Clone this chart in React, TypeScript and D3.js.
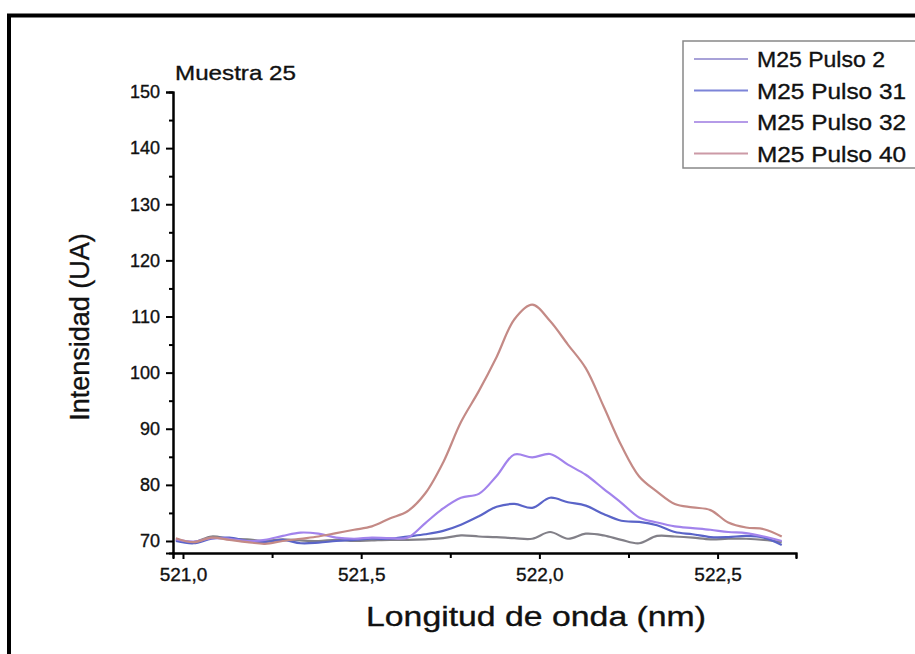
import React, { useEffect, useRef } from "react";
import * as d3 from "d3";

const width = 915;
const height = 654;
const margin = { top: 92, right: 119, bottom: 101, left: 173 };

// wavelength grid (nm)
const wavelength = [
  520.98, 521.03, 521.08, 521.13, 521.18, 521.23, 521.28, 521.33, 521.38, 521.43,
  521.48, 521.53, 521.58, 521.63, 521.68, 521.73, 521.78, 521.83, 521.88, 521.93,
  521.98, 522.03, 522.08, 522.13, 522.18, 522.23, 522.28, 522.33, 522.38, 522.43,
  522.48, 522.53, 522.58, 522.63, 522.68,
];

const pulso2 = [
  70.2, 69.8, 70.8, 70.4, 70.3, 70.0, 70.3, 70.1, 70.0, 70.2,
  70.0, 70.1, 70.2, 70.2, 70.3, 70.5, 71.0, 70.8, 70.7, 70.5,
  70.4, 71.6, 70.4, 71.3, 71.0, 70.2, 69.6, 70.9, 70.8, 70.6,
  70.3, 70.4, 70.4, 70.2, 69.8,
];

const pulso31 = [
  70.0, 69.6, 70.4, 70.6, 70.0, 69.8, 70.2, 69.6, 69.7, 70.0,
  70.2, 70.4, 70.4, 70.8, 71.2, 71.8, 72.9, 74.4, 76.1, 76.6,
  75.9, 77.7, 76.9, 76.3, 74.8, 73.6, 73.4, 72.8, 71.6, 71.2,
  70.7, 70.7, 70.9, 70.6, 69.3,
];

const pulso32 = [
  70.3, 69.9, 70.5, 70.4, 70.0, 70.2, 70.9, 71.5, 71.3, 70.6,
  70.4, 70.6, 70.5, 70.6, 73.2, 75.8, 77.7, 78.4, 81.6, 85.4,
  84.9, 85.5, 83.6, 81.8, 79.3, 76.8, 74.2, 73.3, 72.6, 72.3,
  72.0, 71.6, 71.4, 70.8, 70.0,
];

const pulso40 = [
  70.5, 69.8, 70.6, 70.2, 69.8, 69.5, 70.0, 70.4, 70.8, 71.4,
  72.0, 72.6, 74.0, 75.3, 78.5, 84.0, 91.2, 96.7, 102.8, 109.5,
  112.1, 109.2, 105.0, 100.8, 94.0, 87.0, 81.5, 78.8, 76.6, 76.0,
  75.5, 73.3, 72.4, 72.1, 70.8,
];

const seriesNames = ["M25 Pulso 2", "M25 Pulso 31", "M25 Pulso 32", "M25 Pulso 40"];
const seriesValues = [pulso2, pulso31, pulso32, pulso40];
const seriesColors = ["#828088", "#5a64c8", "#a283ec", "#c48a86"];
const legendColors = ["#a8a2d8", "#7c84d8", "#b59be8", "#cc9aa6"];

const yMajor = [70, 80, 90, 100, 110, 120, 130, 140, 150];
const yMinor = [75, 85, 95, 105, 115, 125, 135, 145];
const xMajor = [521.0, 521.5, 522.0, 522.5];
const xMinor = [521.25, 521.75, 522.25];

const font = "'Liberation Sans', Arial, sans-serif";
const ink = "#111";

export default function App() {
  const ref = useRef<SVGSVGElement>(null);

  useEffect(() => {
    const svg = d3.select(ref.current);
    svg.selectAll("*").remove();

    const w = width - margin.left - margin.right;
    const h = height - margin.top - margin.bottom;

    // frame around the figure (runs off the right/bottom edge)
    svg.append("rect")
      .attr("x", 9).attr("y", 15.5)
      .attr("width", 1200).attr("height", 1200)
      .attr("fill", "white")
      .attr("stroke", "black")
      .attr("stroke-width", 4);

    const g = svg.append("g")
      .attr("transform", "translate(" + margin.left + "," + margin.top + ")");

    const xScale = d3.scaleLinear().domain([520.972, 522.72]).range([0, w]);
    const yScale = d3.scaleLinear().domain([67.86, 150]).range([h, 0]);

    // lines
    seriesValues.forEach((vals, i) => {
      const pts = wavelength.map((x, j) => [x, vals[j]] as [number, number]);
      g.append("path")
        .datum(pts)
        .attr("fill", "none")
        .attr("stroke", seriesColors[i])
        .attr("stroke-width", 2.2)
        .attr("stroke-linejoin", "round")
        .attr("d", d3.line()
          .x(d => xScale(d[0]))
          .y(d => yScale(d[1]))
          .curve(d3.curveCatmullRom.alpha(0.5))
        );
    });

    // y axis
    const yaxis = d3.axisLeft(yScale).tickValues(yMajor).tickSize(7).tickPadding(6)
      .tickFormat(d3.format("d") as any);
    const yAxisG = g.append("g").call(yaxis);
    g.append("g").call(d3.axisLeft(yScale).tickValues(yMinor).tickSize(4).tickFormat(() => ""));

    // x axis
    const xaxis = d3.axisBottom(xScale).tickValues(xMajor).tickSize(6).tickPadding(9)
      .tickFormat(d => d3.format(".1f")(d as number).replace(".", ","));
    const xAxisG = g.append("g").attr("transform", "translate(0," + h + ")").call(xaxis);
    g.append("g").attr("transform", "translate(0," + h + ")")
      .call(d3.axisBottom(xScale).tickValues(xMinor).tickSize(5).tickFormat(() => ""));

    g.selectAll(".domain").attr("stroke", "black").attr("stroke-width", 2);
    g.selectAll(".tick line").attr("stroke", "black").attr("stroke-width", 2);
    g.selectAll(".tick text")
      .style("font-family", font)
      .attr("fill", ink)
      .attr("stroke", ink)
      .attr("stroke-width", 0.35);
    yAxisG.selectAll(".tick text").style("font-size", "18px");
    xAxisG.selectAll(".tick text").style("font-size", "19px");

    // titles
    svg.append("text")
      .attr("x", 175).attr("y", 80)
      .attr("textLength", 121).attr("lengthAdjust", "spacingAndGlyphs")
      .text("Muestra 25")
      .style("font-family", font).style("font-size", "21px")
      .attr("fill", ink).attr("stroke", ink).attr("stroke-width", 0.35);

    svg.append("text")
      .attr("x", 366).attr("y", 626)
      .attr("textLength", 340).attr("lengthAdjust", "spacingAndGlyphs")
      .text("Longitud de onda (nm)")
      .style("font-family", font).style("font-size", "27px")
      .attr("fill", ink).attr("stroke", ink).attr("stroke-width", 0.35);

    svg.append("text")
      .attr("text-anchor", "middle")
      .attr("transform", "translate(89,327)rotate(-90)")
      .text("Intensidad (UA)")
      .style("font-family", font).style("font-size", "27px")
      .attr("fill", ink).attr("stroke", ink).attr("stroke-width", 0.35);

    // legend
    const lg = svg.append("g").attr("transform", "translate(683,41)");
    lg.append("rect")
      .attr("width", 240).attr("height", 127)
      .attr("fill", "white")
      .attr("stroke", "#888")
      .attr("stroke-width", 1.5);
    seriesNames.forEach((name, i) => {
      const yy = 18 + i * 31.5;
      lg.append("line")
        .attr("x1", 11).attr("x2", 65)
        .attr("y1", yy).attr("y2", yy)
        .attr("stroke", legendColors[i]).attr("stroke-width", 2);
      lg.append("text")
        .attr("x", 74).attr("y", yy + 8)
        .attr("textLength", name.length > 11 ? 149 : 128)
        .attr("lengthAdjust", "spacingAndGlyphs")
        .text(name)
        .style("font-family", font).style("font-size", "22px")
        .attr("fill", ink).attr("stroke", ink).attr("stroke-width", 0.35);
    });
  }, []);

  return (
    <svg ref={ref} width={width} height={height}
      style={{ position: "absolute", left: 0, top: 0, background: "white" }} />
  );
}
